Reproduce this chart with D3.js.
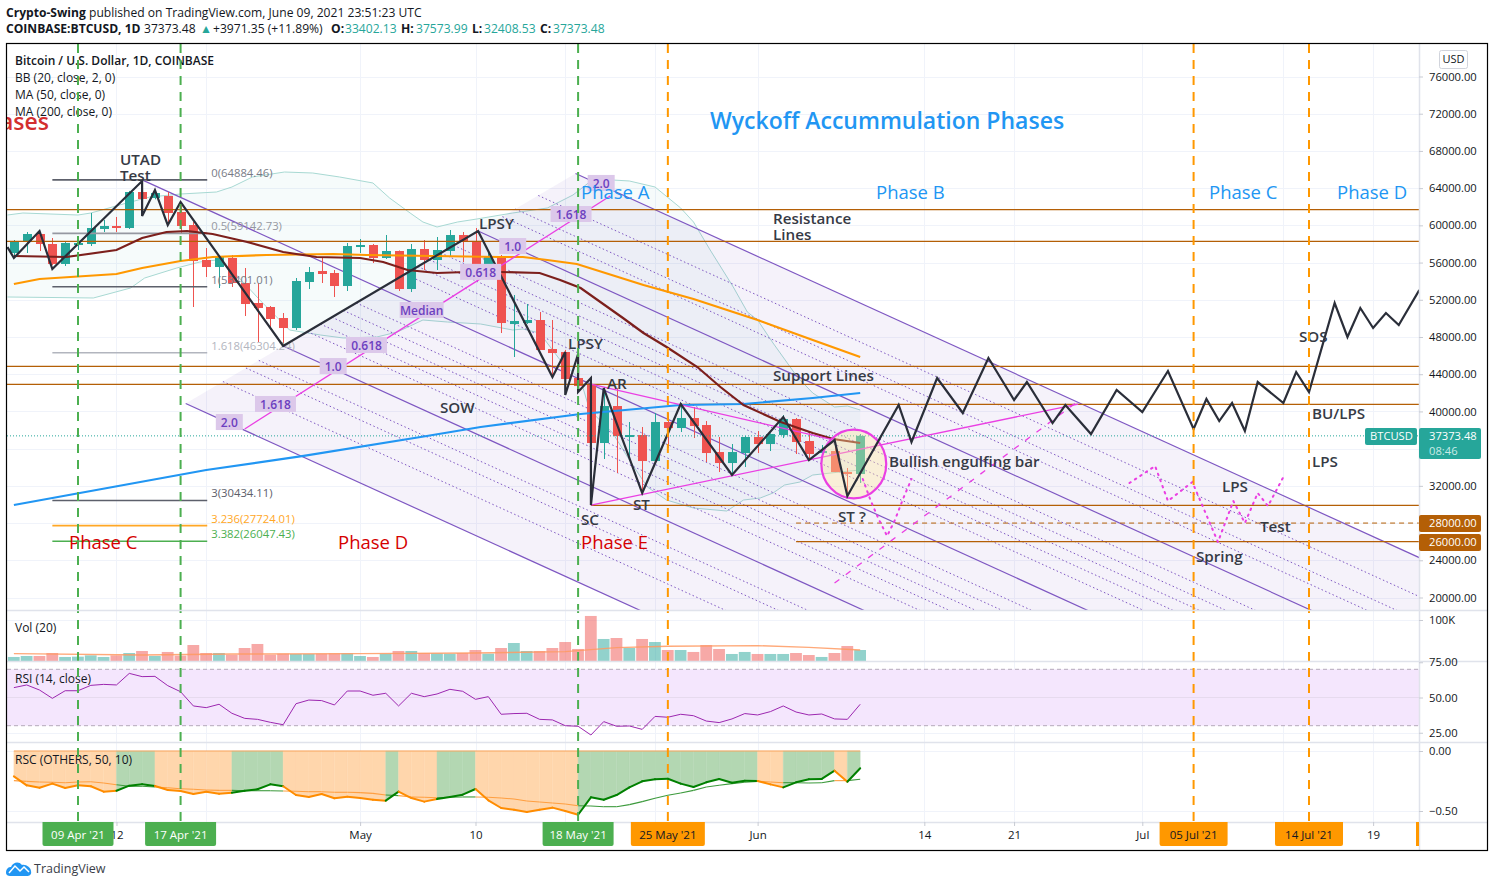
<!DOCTYPE html>
<html><head><meta charset="utf-8">
<script src="https://cdn.jsdelivr.net/npm/d3@7"></script>
<style>
html,body{margin:0;padding:0;background:#fff;overflow:hidden}
svg{display:block}
text{font-family:"Open Sans",sans-serif;}
</style></head><body><div id="c"></div>
<script>
// ---- DATA (days are offsets from 09 Apr 2021) ----
const firstCandleDay = -5;
const opens =[57028,58210,59070,57995,55846,57888,57995,59607,59930,59715,63585,62940,63155,61435,60037,56276,55523,56491,53803,51654,51224,50041,48965,53911,55093,54878,53481,57673,57888,56491,57243,53158,57458,56276,57243,58962,58317,55738,56706,49395,49503,49826,46708,46386,43591,42838,36604,40581,37249,37464,34669,38861,38216,39291,38539,35636,34454,35529,37249,36496,37464,39184,36819,35529,35744,33486,33271];
const closes=[58210,59070,57995,55846,58103,58103,59715,59930,59715,63585,62832,63477,61328,59930,56168,55523,56598,53803,51546,51116,49933,48965,54018,54986,54771,53481,57780,57888,56491,57243,53158,57458,56276,57351,58962,58210,55738,56706,49503,49718,49826,46601,46278,43483,42731,36604,40581,37357,37464,34669,38861,38216,39291,38431,35529,34454,35636,37249,36496,37571,39184,36711,35421,35744,33486,33271,37373];
const highs =[58425,59285,59200,58640,58200,58747,61328,60575,60900,63700,64884,63800,63585,62500,60360,57565,56700,56813,55416,53803,51331,50578,54340,55523,56491,55200,58103,58533,58000,58962,57300,57995,58425,58747,59500,59285,59715,57028,56813,52512,51546,50685,49826,46601,46386,43053,42623,42500,38861,38324,39830,39830,40905,40474,38969,37249,36496,37357,37894,37650,39615,39291,37894,36389,36926,33920,37574];
const lows  =[56598,57028,57243,55738,55630,57351,57780,59285,59285,59607,61005,62800,60360,59180,51224,54450,53266,53373,50255,47460,49073,47140,48750,53158,53803,52300,52943,57028,55953,56384,52943,52835,55200,55200,56598,56060,55200,55630,48427,45849,49395,46601,43700,41765,42300,29940,34885,33380,35100,31230,34669,36066,37786,37142,34561,33486,33165,34024,35529,35744,37142,35421,34777,35421,33486,31015,32309];
const volumesK=[9.8,12.2,12.2,19.5,9.8,10.6,13.8,9.8,13.8,19.5,24.4,12.2,22,13,39,19.5,19.5,15.4,31.7,41.5,15.4,17.9,17.1,17.1,17.9,18.7,18.7,12.2,9.8,17.9,24.4,24.4,19.5,18.7,17.9,19.5,26.8,17.9,31.7,43.9,24.4,24.4,31.7,46.3,29.3,109.8,53.7,56.1,31.7,53.7,46.3,26.8,26.8,22,39,29.3,17.1,22,17.1,17.1,17.1,19.5,14.6,9.8,19.5,36.6,26.8];
const volumeMA=[[-5,17.9],[5,14.6],[12,17.1],[22,17.9],[31,19.5],[38,22.8],[42,32.5],[46,35.8],[53,37.4],[57,33.3],[61,26.8]];
const rsi=[57,58.9,55.3,49.4,54.8,54.8,58.6,59.3,58.9,67.1,64.8,65,58.4,54.1,44,42.8,45.2,38.8,35.2,34.5,32.4,30.7,45.6,48.2,47.8,44.7,54.6,54.6,51.6,53,44,53,50.6,52.5,55.8,54.4,48.7,50.6,38.1,38.6,38.8,34.5,34.1,30,29.6,23.4,32.9,29.6,29.8,27.4,36.6,36,38.1,37.1,33.3,32.2,34.8,38.6,37.6,40,44,39.7,37.6,38.3,34.8,34.5,45.2];
const rscValue=[-.211,-.286,-.306,-.272,-.308,-.286,-.294,-.339,-.331,-.289,-.278,-.292,-.325,-.333,-.358,-.339,-.356,-.347,-.331,-.319,-.278,-.294,-.367,-.383,-.358,-.394,-.381,-.392,-.406,-.414,-.339,-.392,-.422,-.4,-.383,-.364,-.317,-.411,-.475,-.489,-.508,-.489,-.472,-.5,-.531,-.386,-.406,-.367,-.303,-.253,-.236,-.231,-.272,-.3,-.261,-.233,-.264,-.247,-.25,-.278,-.303,-.261,-.236,-.233,-.164,-.256,-.144];
const rscSignal=[-.247,-.253,-.258,-.261,-.264,-.258,-.256,-.267,-.281,-.294,-.294,-.3,-.306,-.314,-.319,-.325,-.328,-.328,-.331,-.331,-.331,-.333,-.336,-.339,-.339,-.344,-.344,-.347,-.353,-.367,-.372,-.383,-.386,-.389,-.386,-.383,-.383,-.386,-.392,-.4,-.417,-.425,-.433,-.442,-.456,-.458,-.464,-.464,-.447,-.422,-.394,-.369,-.35,-.328,-.3,-.286,-.272,-.261,-.253,-.258,-.264,-.264,-.267,-.264,-.247,-.247,-.236];
const bbUpper=[[-5.5,61113],[-4.3,61328],[0,61113],[1,61328],[3.8,62402],[5.6,63048],[8,63370],[10.8,63585],[12,64122],[13.6,65198],[16.1,65735],[18.3,65627],[20.4,65198],[23,64553],[24.3,62940],[25.9,61328],[26.9,60360],[28,59823],[29.6,60360],[31.1,60683],[33.9,61328],[36.6,61865],[38.6,63263],[39.9,64660],[41.7,64875],[43,64768],[45,64122],[47,61865],[48,60360],[49.3,57351],[51.1,53373],[52.2,50686],[53,49826],[54.2,47354],[56.1,43700],[57.3,41980],[59,40474],[60,40582],[61,40153]];
const bbLower=[[-5.5,52300],[1.2,52192],[4.1,53266],[5.2,54341],[7.7,55416],[9.5,56061],[10.8,56276],[12,55200],[14.4,51654],[16.5,48751],[18.9,48214],[20.7,47891],[23.3,47999],[24.9,48536],[26.9,49826],[28.8,49611],[31.4,49396],[33.9,48751],[34.7,48858],[36,48429],[37.6,45526],[39.2,43376],[39.9,40152],[41.7,37680],[43,34778],[44.4,31876],[45.9,30478],[48,29618],[50.6,29295],[51.9,30478],[53.2,30693],[54.2,31230],[55.1,32090],[56.3,32412],[57.3,33165],[59.4,33488],[61,33703]];
const maOrange=[[-5,53696],[-3,54234],[3,54771],[5,55416],[8,56168],[10.5,56598],[14.7,56813],[19.9,56921],[22.5,56813],[27.7,56706],[32.9,56598],[34.7,56598],[36.6,56276],[38.9,55846],[44.1,53588],[48,52084],[53,49826],[57.3,47676],[61,45849]];
const maBrown=[[-5,56706],[-.9,56598],[3,57351],[5,58640],[6.9,59286],[8.5,59393],[10.5,59071],[13.2,58210],[16,57135],[18.6,56598],[22,56491],[23.8,56061],[25.7,55201],[28,54878],[30.3,54985],[32.9,54985],[36,54878],[37.6,54125],[39.2,53266],[42.5,50041],[44.1,48429],[45.9,46924],[48.3,44774],[50.1,42624],[51.9,40689],[54.8,38860],[57.3,37678],[58.9,37033],[61,36603]];
const maBlue=[[-5,29940],[-2,30693],[10,33703],[17.6,35218],[27.2,37357],[31.4,38326],[39.2,39724],[47,40690],[51.9,40797],[57.3,41442],[61,41980]];
const zigzag=[[-5.5,57673],[-5,56491],[-3,59393],[-2,55308],[5,64768],[5,61005],[6,63800],[7,60037],[8,62510],[16,47032],[31.2,59393],[37,43700],[38,46386],[38,41765],[39,46170],[39,42086],[40,43591],[40,29940],[41,42517],[44,31230],[47,40797],[51,33165],[55,39400],[57,34777],[59,36926],[60,30908],[64,40690],[65,36711],[67,43591],[69,39830],[71,45742],[73,41227],[74,43160],[76,38754],[77,40690],[79,37571],[81,42300],[83,39937],[85,44344],[87,38110],[88,41334],[89,38969],[90,40905],[91,37894],[92,43160],[94,40905],[95,44237],[96,42086],[98,51654],[99,47999],[100,51116],[101,48965],[102,50578],[103,49288],[104.6,53051]];
const fibLevels=[["0(64884.46)",64884.46,"#5d606b","#787b86"],["0.5(59142.73)",59142.73,"#9598a1","#9598a1"],["1(53401.01)",53401.01,"#5d606b","#787b86"],["1.618(46304.24)",46304.24,"#b2b5be","#b2b5be"],["3(30434.11)",30434.11,"#5d606b","#5d606b"],["3.236(27724.01)",27724.01,"#ffa726","#ffa726"],["3.382(26047.43)",26047.43,"#4caf50","#4caf50"]];
const fibSpan=[-2,10];
const forkA=[5,64884], forkB=[31.2,59393], forkC=[16,47032];
const forkSolid=[2,1,0,-1,-2];
const forkDotted=[1.618,1.382,1.25,.75,.618,.5,.382,.25,-.25,-.382,-.5,-.618,-.75,-1.25,-1.382,-1.618];
const forkLine=[[13,38110],[41.5,63155]];
const forkTags=[["2.0",40.8,64560],["1.618",38.45,61220],["1.0",33.9,57780],["0.618",31.4,55000],["Median",26.8,50900],["0.618",22.5,47140],["1.0",19.9,44880],["1.618",15.4,40800],["2.0",11.8,38860]];
const wedgeUpper=[[40,42947],[59,36928]], wedgeLower=[[40,29940],[78,40797]];
const circleBox={day:60.5,price:34347,dayR:2.53,priceR:3700};
const dotted1=[[61.2,32735],[61.8,30478],[62.4,28543],[63.1,26608],[63.7,28303],[64.4,30800],[65,32735]];
const dashed1=[[59,21556],[77.8,40905]];
const dotted2=[[82,32305],[84,34133],[85,30370],[86.9,32412],[88.9,25963],[90.1,30370],[91,28006],[92,31231],[92.8,29833],[94,32950]];
const hLines=[[61682,-6],[58286,-6],[44849,-6],[42914,-6],[40765,47],[29910,40],[26000,56]];
const dashedLevel=[28000,56];
const priceTicks=[76000,72000,68000,64000,60000,56000,52000,48000,44000,40000,36000,32000,28000,24000,20000];
const vLinesGreen=[["09 Apr '21",0],["17 Apr '21",8],["18 May '21",39]];
const vLinesOrange=[["25 May '21",46],["05 Jul '21",87],["14 Jul '21",96]];
const timeTicks=[[3,"12"],[10,""],[22,"May"],[31,"10"],[38,""],[45,""],[53,"Jun"],[66,"14"],[73,"21"],[83,"Jul"],[94,""],[101,"19"]];
const darkLabels=[["UTAD",120,159],["Test",120,175],["LPSY",479,223],["LPSY",568,343],["SOW",440,407],["AR",607,383],["SC",581,519],["ST",633,504],["ST ?",838,516],["Bullish engulfing bar",889,461],["Resistance",773,218],["Lines",773,234],["Support Lines",773,375],["SOS",1299,336],["BU/LPS",1312,413],["LPS",1312,461],["LPS",1222,486],["Test",1260,526],["Spring",1196,556]];
const redLabels=[["Phase C",69,543],["Phase D",338,543],["Phase E",581,543]];
const blueLabels=[["Phase A",581,193],["Phase B",876,193],["Phase C",1209,193],["Phase D",1337,193]];

// ---- LAYOUT ----
const W=1494,H=887;
const paneL=7,axisX=1419,frameR=1487,paneTop=44,mainB=610,volB=661,rsiB=742,rscB=822,frameB=850;
const TEAL="#26a69a",RED="#ef5350",MAG="#ea3fe3",BROWN="#b45f06",PURPLE="#7e57c2",INK="#2a2e39";
const dayDate=d=>new Date(Date.UTC(2021,3,9)+d*864e5);
const x=d3.scaleUtc().domain([dayDate(0),dayDate(96)]).range([78,1309]);
const X=d=>x(dayDate(d));
const y=d3.scaleLinear().domain([20000,76000]).range([597.5,76.5]);
const yVol=d3.scaleLinear().domain([0,100]).range([661,620]);
const yRsi=d3.scaleLinear().domain([25,75]).range([732.75,662.25]);
const yRsc=d3.scaleLinear().domain([-.5,0]).range([811,751]);
const candles=opens.map((o,i)=>({d:firstCandleDay+i,o,c:closes[i],h:highs[i],l:lows[i],v:volumesK[i],r:rsi[i],sv:rscValue[i],ss:rscSignal[i]}));

const svg=d3.select("#c").append("svg").attr("width",W).attr("height",H);
const defs=svg.append("defs");
defs.append("clipPath").attr("id","mainClip").append("rect").attr("x",paneL).attr("y",paneTop).attr("width",axisX-paneL).attr("height",mainB-paneTop);
defs.append("clipPath").attr("id","volClip").append("rect").attr("x",paneL).attr("y",mainB).attr("width",axisX-paneL).attr("height",volB-mainB);
defs.append("clipPath").attr("id","plotClip").append("rect").attr("x",paneL).attr("y",paneTop).attr("width",axisX-paneL).attr("height",rscB-paneTop);
defs.append("clipPath").attr("id","tickClip").append("rect").attr("x",axisX).attr("y",paneTop).attr("width",frameR-axisX).attr("height",rscB-paneTop);

svg.append("rect").attr("width",W).attr("height",H).attr("fill","#fff");

// grid
const gridG=svg.append("g").attr("stroke","#f0f3fa").attr("stroke-width",1);
gridG.selectAll("line.v").data(timeTicks).join("line").attr("class","v").attr("x1",d=>Math.round(X(d[0]))+.5).attr("x2",d=>Math.round(X(d[0]))+.5).attr("y1",paneTop).attr("y2",rscB);
gridG.selectAll("line.h").data(priceTicks).join("line").attr("class","h").attr("x1",paneL).attr("x2",axisX).attr("y1",d=>Math.round(y(d))+.5).attr("y2",d=>Math.round(y(d))+.5);
[yVol(100),yRsi(25),yRsc(0),yRsc(-.5)].forEach(v=>gridG.append("line").attr("x1",paneL).attr("x2",axisX).attr("y1",Math.round(v)+.5).attr("y2",Math.round(v)+.5));

const line=d3.line().x(d=>X(d[0])).y(d=>y(d[1]));

// ---- main pane ----
const main=svg.append("g").attr("clip-path","url(#mainClip)");

// Bollinger band
const bbPoly=bbUpper.map(d=>[X(d[0]),y(d[1])]).concat(bbLower.slice().reverse().map(d=>[X(d[0]),y(d[1])]));
main.append("path").attr("d",d3.line()(bbPoly)+"Z").attr("fill","rgba(38,166,154,.045)");
[bbUpper,bbLower].forEach(s=>main.append("path").attr("d",line(s)).attr("fill","none").attr("stroke","#a8d9d3").attr("stroke-width",1));

// Pitchfork
const px=p=>[X(p[0]),y(p[1])];
const A=px(forkA),B=px(forkB),C=px(forkC);
const mid=[(B[0]+C[0])/2,(B[1]+C[1])/2];
const dir=[mid[0]-A[0],mid[1]-A[1]];
const forkStart=L=>[mid[0]+L*(B[0]-mid[0]),mid[1]+L*(B[1]-mid[1])];
const forkEnd=L=>{const s=forkStart(L),t=(1600-s[0])/dir[0];return [s[0]+t*dir[0],s[1]+t*dir[1]];};
main.append("path").attr("d",d3.line()([forkStart(2),forkEnd(2),forkEnd(-2),forkStart(-2)])+"Z").attr("fill","rgba(103,58,183,.065)");
main.selectAll("line.fd").data(forkDotted).join("line").attr("class","fd")
 .attr("x1",d=>forkStart(d)[0]).attr("y1",d=>forkStart(d)[1]).attr("x2",d=>forkEnd(d)[0]).attr("y2",d=>forkEnd(d)[1])
 .attr("stroke",PURPLE).attr("stroke-width",1).attr("stroke-dasharray","1.5 2.5");
main.selectAll("line.fs").data(forkSolid).join("line").attr("class","fs")
 .attr("x1",d=>d===0?A[0]:forkStart(d)[0]).attr("y1",d=>d===0?A[1]:forkStart(d)[1]).attr("x2",d=>forkEnd(d)[0]).attr("y2",d=>forkEnd(d)[1])
 .attr("stroke",PURPLE).attr("stroke-width",1.2);

// Candles
const cg=main.append("g");
cg.selectAll("line").data(candles).join("line")
 .attr("x1",d=>Math.round(X(d.d))+.5).attr("x2",d=>Math.round(X(d.d))+.5)
 .attr("y1",d=>y(d.h)).attr("y2",d=>y(d.l))
 .attr("stroke",d=>d.c>=d.o?TEAL:RED);
cg.selectAll("rect").data(candles).join("rect")
 .attr("x",d=>Math.round(X(d.d))-4).attr("width",9)
 .attr("y",d=>y(Math.max(d.o,d.c))).attr("height",d=>Math.max(1,Math.abs(y(d.o)-y(d.c))))
 .attr("fill",d=>d.c>=d.o?TEAL:RED);

// Fib levels
fibLevels.forEach(f=>{
 main.append("line").attr("x1",X(fibSpan[0])).attr("x2",X(fibSpan[1])+1).attr("y1",y(f[1])).attr("y2",y(f[1])).attr("stroke",f[2]).attr("stroke-width",1.6);
 main.append("text").attr("x",X(fibSpan[1])+5).attr("y",y(f[1])-6).attr("dominant-baseline","middle").attr("font-size",11.3).attr("fill",f[3]).text(f[0]);
});

// Horizontal levels
main.selectAll("line.hl").data(hLines).join("line").attr("class","hl")
 .attr("x1",d=>X(d[1])).attr("x2",axisX).attr("y1",d=>y(d[0])).attr("y2",d=>y(d[0])).attr("stroke",BROWN).attr("stroke-width",1.2);
main.append("line").attr("x1",X(dashedLevel[1])).attr("x2",axisX).attr("y1",y(dashedLevel[0])).attr("y2",y(dashedLevel[0])).attr("stroke",BROWN).attr("stroke-width",1).attr("stroke-dasharray","5 4");
// last price line
main.append("line").attr("x1",paneL).attr("x2",axisX).attr("y1",y(37373.48)).attr("y2",y(37373.48)).attr("stroke",TEAL).attr("stroke-dasharray","1 2");

// MAs
main.append("path").attr("d",line(maBlue)).attr("fill","none").attr("stroke","#2196f3").attr("stroke-width",2.2);
main.append("path").attr("d",line(maOrange)).attr("fill","none").attr("stroke","#ff9800").attr("stroke-width",2.2);
main.append("path").attr("d",line(maBrown)).attr("fill","none").attr("stroke","#7c1f1c").attr("stroke-width",2.2);

// Magenta drawings
[forkLine,wedgeUpper,wedgeLower].forEach(s=>main.append("path").attr("d",line(s)).attr("fill","none").attr("stroke",MAG).attr("stroke-width",1.3));
main.append("ellipse").attr("cx",X(circleBox.day)).attr("cy",y(circleBox.price))
 .attr("rx",X(circleBox.day+circleBox.dayR)-X(circleBox.day)).attr("ry",y(circleBox.price-circleBox.priceR)-y(circleBox.price))
 .attr("fill","rgba(255,235,160,.38)").attr("stroke",MAG).attr("stroke-width",2.2);
[dotted1,dotted2].forEach(s=>main.append("path").attr("d",line(s)).attr("fill","none").attr("stroke",MAG).attr("stroke-width",2).attr("stroke-dasharray","1.5 5").attr("stroke-linecap","round"));
main.append("path").attr("d",line(dashed1)).attr("fill","none").attr("stroke",MAG).attr("stroke-width",1.3).attr("stroke-dasharray","6 8");

// Zigzag
main.append("path").attr("d",line(zigzag)).attr("fill","none").attr("stroke",INK).attr("stroke-width",2.2).attr("stroke-linejoin","miter");

// Fork tags
forkTags.forEach(t=>{
 const cx=X(t[1]),cy=y(t[2]);
 const w=t[0].length*7+(t[0]==="Median"?2:6);
 main.append("rect").attr("x",cx-w/2).attr("y",cy-8).attr("width",w).attr("height",16).attr("fill","#dcc8ea");
 main.append("text").attr("x",cx).attr("y",cy+1.5).attr("text-anchor","middle").attr("dominant-baseline","middle").attr("font-size",12).attr("font-weight",600).attr("fill","#6c3fc0").text(t[0]);
});

// Annotation texts
const label=(g,t,px_,py_,size,fill,weight)=>g.append("text").attr("x",px_).attr("y",py_+1.5).attr("dominant-baseline","middle").attr("font-size",size).attr("fill",fill).attr("font-weight",weight||500).text(t);
label(main,"Phases",49,122,23,"#d32f2f",600).attr("text-anchor","end");
darkLabels.forEach(l=>label(main,l[0],l[1],l[2],15.2,"#363a45",600));
redLabels.forEach(l=>label(main,l[0],l[1],l[2],18.5,"#d50000",500));
blueLabels.forEach(l=>label(main,l[0],l[1],l[2],18.5,"#2196f3",500));
label(main,"Wyckoff Accummulation Phases",710,121,23,"#2196f3",600);

// Legend
label(svg,"Bitcoin / U.S. Dollar, 1D, COINBASE",15,60,12,"#131722",600);
label(svg,"BB (20, close, 2, 0)",15,77,12,"#131722",400);
label(svg,"MA (50, close, 0)",15,94,12,"#131722",400);
label(svg,"MA (200, close, 0)",15,111,12,"#131722",400);

// ---- Volume ----
const vg=svg.append("g").attr("clip-path","url(#volClip)");
vg.selectAll("rect").data(candles).join("rect")
 .attr("x",d=>X(d.d)-6).attr("width",11.8).attr("y",d=>yVol(d.v)).attr("height",d=>yVol(0)-yVol(d.v))
 .attr("fill",d=>d.c>=d.o?"rgba(38,166,154,.5)":"rgba(239,83,80,.5)");
vg.append("path").attr("d",d3.line().x(d=>X(d[0])).y(d=>yVol(d[1]))(volumeMA)).attr("fill","none").attr("stroke","#ff9a62").attr("stroke-width",1.4).attr("opacity",.85);
label(svg,"Vol (20)",15,627,12,"#131722",400);

// ---- RSI ----
const rg=svg.append("g");
rg.append("rect").attr("x",paneL).attr("width",axisX-paneL).attr("y",yRsi(70)).attr("height",yRsi(30)-yRsi(70)).attr("fill","#f4e6fd");
[70,30].forEach(v=>rg.append("line").attr("x1",paneL).attr("x2",axisX).attr("y1",yRsi(v)).attr("y2",yRsi(v)).attr("stroke","#b4a9bb").attr("stroke-dasharray","4 3"));
rg.append("line").attr("x1",paneL).attr("x2",axisX).attr("y1",yRsi(50)).attr("y2",yRsi(50)).attr("stroke","#e6daee");
rg.append("path").attr("d",d3.line().x(d=>X(d.d)).y(d=>yRsi(d.r))(candles)).attr("fill","none").attr("stroke","#9c27b0").attr("stroke-width",1);
label(svg,"RSI (14, close)",15,678,12,"#131722",400);

// ---- RSC ----
const sg=svg.append("g");
const GREEN_L="#008000",ORANGE_L="#ff8c00";
const area=d3.area().x(d=>X(d.d)).y0(yRsc(0)).y1(d=>yRsc(d.sv));
for(let i=1;i<candles.length;i++){
 const a=candles[i-1],b=candles[i],up=b.sv>=b.ss;
 sg.append("path").attr("d",area([a,b])).attr("fill",up?"#b3d7b2":"#ffd6ac").attr("stroke",up?"#b3d7b2":"#ffd6ac").attr("stroke-width",.4);
}
for(let i=1;i<candles.length;i++){
 const a=candles[i-1],b=candles[i],up=b.sv>=b.ss;
 sg.append("line").attr("x1",X(a.d)).attr("x2",X(b.d)).attr("y1",yRsc(a.ss)).attr("y2",yRsc(b.ss)).attr("stroke",up?"#3c9a3c":"#ff9f40").attr("stroke-width",1.1);
}
for(let i=1;i<candles.length;i++){
 const a=candles[i-1],b=candles[i],up=b.sv>=b.ss;
 sg.append("line").attr("x1",X(a.d)).attr("x2",X(b.d)).attr("y1",yRsc(a.sv)).attr("y2",yRsc(b.sv)).attr("stroke",up?GREEN_L:ORANGE_L).attr("stroke-width",2).attr("stroke-linecap","round");
}
sg.append("line").attr("x1",X(firstCandleDay)).attr("x2",X(firstCandleDay+candles.length-1)).attr("y1",yRsc(0)).attr("y2",yRsc(0)).attr("stroke","#f7a35c").attr("stroke-width",1);
label(svg,"RSC (OTHERS, 50, 10)",15,759,12,"#131722",400);

// ---- vertical dashed markers ----
const vm=svg.append("g").attr("clip-path","url(#plotClip)");
vLinesGreen.forEach(v=>vm.append("line").attr("x1",X(v[1])).attr("x2",X(v[1])).attr("y1",paneTop).attr("y2",rscB).attr("stroke","#4caf50").attr("stroke-width",2).attr("stroke-dasharray","9 7"));
vLinesOrange.forEach(v=>vm.append("line").attr("x1",X(v[1])).attr("x2",X(v[1])).attr("y1",paneTop).attr("y2",rscB).attr("stroke","#ff9800").attr("stroke-width",2).attr("stroke-dasharray","9 7"));

// ---- pane separators ----
const sep=svg.append("g").attr("stroke","#e0e3eb").attr("stroke-width",1.5);
[mainB,volB,rsiB,rscB].forEach(v=>sep.append("line").attr("x1",paneL).attr("x2",frameR).attr("y1",v+.5).attr("y2",v+.5));
sep.append("line").attr("x1",axisX+.5).attr("x2",axisX+.5).attr("y1",paneTop).attr("y2",frameB);

// ---- price axes ----
const styleAxis=g=>{g.select(".domain").remove();g.selectAll(".tick line").attr("stroke","#c8cbd3");g.selectAll("text").attr("font-size",11.2).attr("fill","#131722").attr("font-family",'"Open Sans",sans-serif');};
const axG=svg.append("g").attr("clip-path","url(#tickClip)");
axG.append("g").attr("transform",`translate(${axisX},0)`).call(d3.axisRight(y).tickValues(priceTicks).tickFormat(d3.format(".2f")).tickSize(4).tickPadding(6)).call(styleAxis);
axG.append("g").attr("transform",`translate(${axisX},0)`).call(d3.axisRight(yVol).tickValues([100]).tickFormat(d=>d+"K").tickSize(4).tickPadding(6)).call(styleAxis);
axG.append("g").attr("transform",`translate(${axisX},0)`).call(d3.axisRight(yRsi).tickValues([75,50,25]).tickFormat(d3.format(".2f")).tickSize(4).tickPadding(6)).call(styleAxis);
axG.append("g").attr("transform",`translate(${axisX},0)`).call(d3.axisRight(yRsc).tickValues([0,-.5]).tickFormat(d=>d===0?"0.00":"\u22120.50").tickSize(4).tickPadding(6)).call(styleAxis);

// ---- time axis ----
const tg=svg.append("g").attr("transform",`translate(0,${rscB})`)
 .call(d3.axisBottom(x).tickValues(timeTicks.map(t=>dayDate(t[0]))).tickFormat((d,i)=>timeTicks[i][1]).tickSize(4).tickPadding(5));
tg.select(".domain").remove();
tg.selectAll(".tick line").attr("stroke","#c8cbd3");
tg.selectAll("text").attr("font-size",11.5).attr("fill","#131722").attr("font-family",'"Open Sans",sans-serif');

// date tags
const dateTag=(t,day,fill,color,w)=>{
 const cx=X(day);
 svg.append("path").attr("d",`M${cx-w/2},${rscB}h${w}v22a2,2 0 0 1 -2,2h${-(w-4)}a2,2 0 0 1 -2,-2z`).attr("fill",fill);
 svg.append("text").attr("x",cx).attr("y",rscB+14).attr("text-anchor","middle").attr("dominant-baseline","middle").attr("font-size",11.5).attr("fill",color).text(t);
};
vLinesGreen.forEach(v=>dateTag(v[0],v[1],"#4caf50","#fff",71));
dateTag(vLinesOrange[0][0],vLinesOrange[0][1],"#ff9800","#131722",74);
dateTag(vLinesOrange[1][0],vLinesOrange[1][1],"#ff9800","#131722",68);
dateTag(vLinesOrange[2][0],vLinesOrange[2][1],"#ff9800","#131722",68);
svg.append("rect").attr("x",axisX-3).attr("y",rscB).attr("width",3).attr("height",24).attr("fill","#ff9800");

// price tags
const tag=(xa,w,ya,h,fill)=>svg.append("rect").attr("x",xa).attr("y",ya).attr("width",w).attr("height",h).attr("rx",2).attr("fill",fill);
tag(1365,52,428,17,TEAL);
tag(axisX,62,428,31,TEAL);
tag(axisX,62,515,17,BROWN);
tag(axisX,62,534,17,BROWN);
const tagText=(t,xa,ya,fill)=>svg.append("text").attr("x",xa).attr("y",ya).attr("dominant-baseline","middle").attr("font-size",11.2).attr("fill",fill).text(t);
tagText("BTCUSD",1370,437,"#fff");
tagText("37373.48",1429,437,"#fff");
tagText("08:46",1429,451.5,"#c9ebe7");
tagText("28000.00",1429,524,"#fff");
tagText("26000.00",1429,543,"#fff");
// USD box
svg.append("rect").attr("x",1439.5).attr("y",50.5).attr("width",28).attr("height",18).attr("rx",2).attr("fill","#fff").attr("stroke","#d1d4dc");
svg.append("text").attr("x",1453.5).attr("y",60).attr("text-anchor","middle").attr("dominant-baseline","middle").attr("font-size",11).attr("fill","#131722").text("USD");

// frame
svg.append("rect").attr("x",6.5).attr("y",43.5).attr("width",1481).attr("height",807).attr("fill","none").attr("stroke","#000").attr("stroke-width",1.2);

// header
const h1=svg.append("text").attr("x",6).attr("y",14).attr("dominant-baseline","middle").attr("font-size",12.1).attr("fill","#131722");
h1.append("tspan").attr("font-weight",700).text("Crypto-Swing");
h1.append("tspan").text(" published on TradingView.com, June 09, 2021 23:51:23 UTC");
const h2=svg.append("text").attr("y",30).attr("dominant-baseline","middle").attr("font-size",12.1).attr("fill","#131722");
h2.append("tspan").attr("x",6).attr("font-weight",700).text("COINBASE:BTCUSD, 1D");
h2.append("tspan").attr("x",144).text("37373.48");
h2.append("tspan").attr("x",200).attr("fill",TEAL).text("\u25B2");
h2.append("tspan").attr("x",213).text("+3971.35 (+11.89%)");
[["O:","33402.13",331,345],["H:","37573.99",401,416],["L:","32408.53",472,484],["C:","37373.48",540,553]].forEach(p=>{
 h2.append("tspan").attr("x",p[2]).attr("font-weight",700).text(p[0]);
 h2.append("tspan").attr("x",p[3]).attr("fill",TEAL).text(p[1]);
});

// logo
svg.append("path").attr("d","M6,873 C6,868 9,867 11,867 C13,862 19,861 22,865 C26,864 31,868 31,871 C32,875 29,876 27,876 L10,876 C8,876 6,875 6,873Z").attr("fill","#2196f3");
svg.append("path").attr("d","M9,873 L15,866 L20,871 L24,867 L29,872").attr("fill","none").attr("stroke","#fff").attr("stroke-width",1.5);
svg.append("text").attr("x",34).attr("y",869.5).attr("dominant-baseline","middle").attr("font-size",12.5).attr("fill","#3a3e48").text("TradingView");
</script></body></html>
